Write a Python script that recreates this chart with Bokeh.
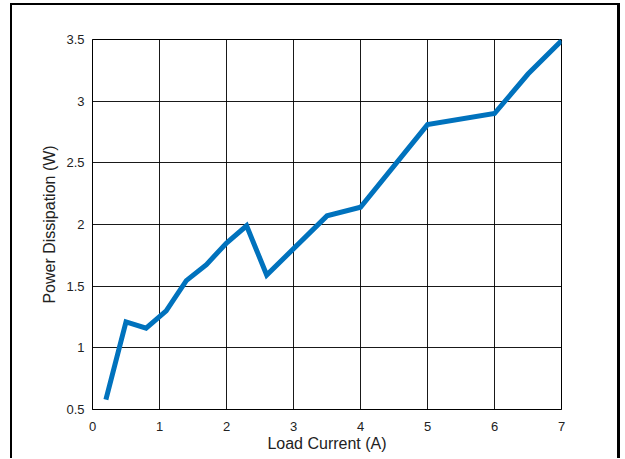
from bokeh.plotting import figure
from bokeh.models import FixedTicker, NumeralTickFormatter, Range1d
from bokeh.embed import file_html
from bokeh.resources import INLINE

# Data
load_current = [0.2, 0.5, 0.8, 1.1, 1.4, 1.7, 2.0, 2.3, 2.6, 3.5, 4.0, 5.0, 6.0, 6.5, 7.0]
power_diss = [0.58, 1.21, 1.16, 1.30, 1.545, 1.675, 1.85, 1.99, 1.59, 2.07, 2.14, 2.81, 2.90, 3.22, 3.49]
x_ticks = [0, 1, 2, 3, 4, 5, 6, 7]
y_ticks = [0.5, 1, 1.5, 2, 2.5, 3, 3.5]

p = figure(
    width=605, height=453,
    frame_width=469, frame_height=370,
    x_range=Range1d(0, 7), y_range=Range1d(0.5, 3.5),
    output_backend="svg", toolbar_location=None,
    min_border_left=80, min_border_right=56, min_border_top=34, min_border_bottom=49,
)
p.styles = {
    "border-left": "2px solid black",
    "border-top": "2px solid black",
    "border-right": "3px solid black",
    "margin-left": "10px",
    "margin-top": "3px",
}

p.line(load_current, power_diss, line_color="#0072BD", line_width=5, line_join="miter")

p.outline_line_color = "black"
p.outline_line_width = 1
p.outline_line_alpha = 1

for ax in (p.xaxis, p.yaxis):
    ax.axis_line_color = "black"
    ax.major_tick_out = 0
    ax.major_tick_in = 0
    ax.minor_tick_line_color = None
    ax.major_label_text_font = "Liberation Sans"
    ax.major_label_text_font_size = "13px"
    ax.major_label_text_color = "#222222"
    ax.axis_label_text_font = "Liberation Sans"
    ax.axis_label_text_font_size = "16px"
    ax.axis_label_text_font_style = "normal"
    ax.axis_label_text_color = "#222222"

p.xaxis.ticker = FixedTicker(ticks=x_ticks)
p.yaxis.ticker = FixedTicker(ticks=y_ticks)
p.xaxis.formatter = NumeralTickFormatter(format="0.[0]")
p.yaxis.formatter = NumeralTickFormatter(format="0.[0]")
p.xaxis.major_label_standoff = 12
p.yaxis.major_label_standoff = 8
p.xaxis.axis_label = "Load Current (A)"
p.yaxis.axis_label = "Power Dissipation (W)"
p.xaxis.axis_label_standoff = 1
p.yaxis.axis_label_standoff = 5

p.xgrid.ticker = FixedTicker(ticks=x_ticks)
p.ygrid.ticker = FixedTicker(ticks=y_ticks)
p.xgrid.grid_line_color = "black"
p.ygrid.grid_line_color = "black"
p.xgrid.grid_line_alpha = 0.9
p.ygrid.grid_line_alpha = 0.9
p.xgrid.grid_line_width = 1
p.ygrid.grid_line_width = 1

open("out.html", "w").write(file_html(p, INLINE))
